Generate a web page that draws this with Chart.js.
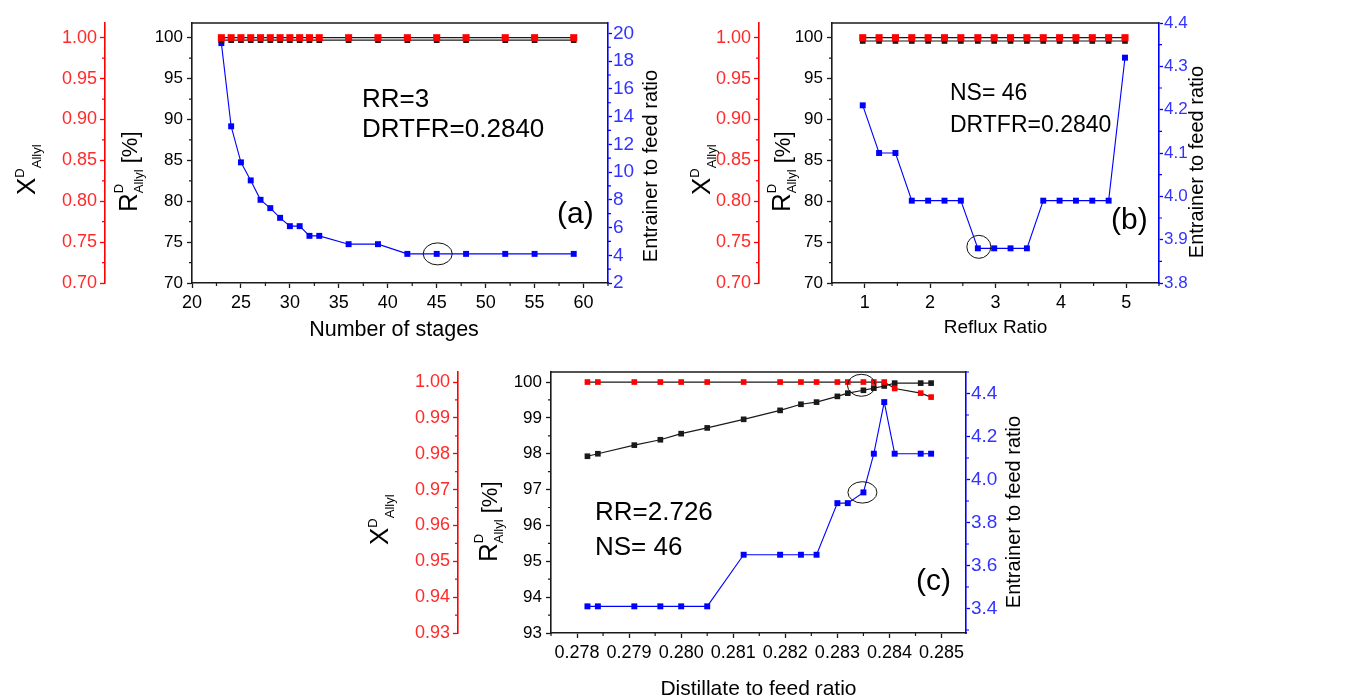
<!DOCTYPE html>
<html><head><meta charset="utf-8">
<script src="https://cdn.jsdelivr.net/npm/chart.js@4/dist/chart.umd.min.js"></script>
<style>
html,body{margin:0;padding:0;background:#fff;width:1345px;height:699px;overflow:hidden;}
canvas{position:absolute;display:block;}
</style></head><body>
<canvas id="ca" width="670" height="345" style="left:0;top:0"></canvas>
<canvas id="cb" width="675" height="345" style="left:670px;top:0"></canvas>
<canvas id="cc" width="720" height="349" style="left:340px;top:350px"></canvas>
<script>
// ---------------- Panel (a): number of stages (RR=3, DRTFR=0.2840) ----------------
const stagesA    = [23, 24, 25, 26, 27, 28, 29, 30, 31, 32, 33, 36, 39, 42, 45, 48, 52, 55, 59];
const purityA    = [1.000, 1.000, 1.000, 1.000, 1.000, 1.000, 1.000, 1.000, 1.000, 1.000, 1.000, 1.000, 1.000, 1.000, 1.000, 1.000, 1.000, 1.000, 1.000];
const recoveryA  = [99.7, 99.7, 99.7, 99.7, 99.7, 99.7, 99.7, 99.7, 99.7, 99.7, 99.7, 99.7, 99.7, 99.7, 99.7, 99.7, 99.7, 99.7, 99.7];
const entrainerA = [19.3, 13.3, 10.7, 9.4, 8.0, 7.4, 6.7, 6.1, 6.1, 5.4, 5.4, 4.8, 4.8, 4.1, 4.1, 4.1, 4.1, 4.1, 4.1];
const xTicksA  = [20, 25, 30, 35, 40, 45, 50, 55, 60];
const rTicksA  = [70, 75, 80, 85, 90, 95, 100];
const pTicksA  = [0.70, 0.75, 0.80, 0.85, 0.90, 0.95, 1.00];
const eTicksA  = [2, 4, 6, 8, 10, 12, 14, 16, 18, 20];

// ---------------- Panel (b): reflux ratio (NS=46, DRTFR=0.2840) ----------------
const refluxB    = [0.97, 1.22, 1.47, 1.72, 1.97, 2.22, 2.47, 2.73, 2.98, 3.23, 3.48, 3.73, 3.98, 4.23, 4.48, 4.73, 4.98];
const purityB    = [1.000, 1.000, 1.000, 1.000, 1.000, 1.000, 1.000, 1.000, 1.000, 1.000, 1.000, 1.000, 1.000, 1.000, 1.000, 1.000, 1.000];
const recoveryB  = [99.6, 99.6, 99.6, 99.6, 99.6, 99.6, 99.6, 99.6, 99.6, 99.6, 99.6, 99.6, 99.6, 99.6, 99.6, 99.6, 99.6];
const entrainerB = [4.21, 4.10, 4.10, 3.99, 3.99, 3.99, 3.99, 3.88, 3.88, 3.88, 3.88, 3.99, 3.99, 3.99, 3.99, 3.99, 4.32];
const xTicksB  = [1, 2, 3, 4, 5];
const rTicksB  = [70, 75, 80, 85, 90, 95, 100];
const pTicksB  = [0.70, 0.75, 0.80, 0.85, 0.90, 0.95, 1.00];
const eTicksB  = [3.8, 3.9, 4.0, 4.1, 4.2, 4.3, 4.4];

// ---------------- Panel (c): distillate to feed ratio (RR=2.726, NS=46) ----------------
const distillC   = [0.2782, 0.2784, 0.2791, 0.2796, 0.2800, 0.2805, 0.2812, 0.2819, 0.2823, 0.2826, 0.2830, 0.2832, 0.2835, 0.2837, 0.2839, 0.2841, 0.2846, 0.2848];
const purityC    = [1.000, 1.000, 1.000, 1.000, 1.000, 1.000, 1.000, 1.000, 1.000, 1.000, 1.000, 1.000, 1.000, 1.000, 1.000, 0.9982, 0.9969, 0.9958];
const recoveryC  = [97.93, 98.00, 98.24, 98.39, 98.56, 98.72, 98.96, 99.21, 99.38, 99.44, 99.60, 99.69, 99.77, 99.83, 99.89, 99.97, 99.97, 99.97];
const entrainerC = [3.41, 3.41, 3.41, 3.41, 3.41, 3.41, 3.65, 3.65, 3.65, 3.65, 3.89, 3.89, 3.94, 4.12, 4.36, 4.12, 4.12, 4.12];
const xTicksC  = [0.278, 0.279, 0.280, 0.281, 0.282, 0.283, 0.284, 0.285];
const rTicksC  = [93, 94, 95, 96, 97, 98, 99, 100];
const pTicksC  = [0.93, 0.94, 0.95, 0.96, 0.97, 0.98, 0.99, 1.00];
const eTicksC  = [3.4, 3.6, 3.8, 4.0, 4.2, 4.4];

// ---------------- texts ----------------
const TITLE_X_A = 'Number of stages';
const TITLE_X_B = 'Reflux Ratio';
const TITLE_X_C = 'Distillate to feed ratio';
const TITLE_E = 'Entrainer to feed ratio';

const FONT = "'Liberation Sans', Arial, Helvetica, sans-serif";
const RED = '#ff0000', RED_TXT = '#ff2a2a', BLUE = '#0000ff', BLUE_TXT = '#3333ff', BLK = '#1a1a1a';

function axis(o) {
  return {
    type: 'linear', position: o.position, min: o.min, max: o.max, weight: o.weight || 0,
    afterBuildTicks: s => { s.ticks = o.ticks.map(v => ({ value: v })); },
    afterFit: s => {
      if (s.isHorizontal()) { s.height = o.size; s.paddingLeft = 0; s.paddingRight = 0; }
      else { s.width = o.size; s.paddingTop = 0; s.paddingBottom = 0; }
    },
    border: { display: true, color: o.color, width: 1.6 },
    grid: { display: true, drawOnChartArea: false, drawTicks: true, tickLength: o.tl || 5, tickColor: o.color, tickWidth: 1.3, color: 'rgba(0,0,0,0)' },
    ticks: { autoSkip: false, includeBounds: false, color: o.textColor, padding: o.pad, maxRotation: 0, minRotation: 0,
             font: { family: FONT, size: o.fs }, callback: v => Number(v).toFixed(o.dec) },
    title: { display: false }
  };
}

function richRot(ctx, bx, sy, parts) {
  ctx.save();
  ctx.translate(bx, sy);
  ctx.rotate(-Math.PI / 2);
  ctx.textAlign = 'left'; ctx.textBaseline = 'alphabetic'; ctx.fillStyle = '#000';
  let cx = 0;
  for (const p of parts) {
    ctx.font = p.s + 'px ' + FONT;
    ctx.fillText(p.t, cx, p.dy || 0);
    if (!p.keep) cx += ctx.measureText(p.t).width;
  }
  ctx.restore();
}

const decoPlugin = {
  id: 'deco',
  afterDraw(chart, args, o) {
    const ctx = chart.ctx, ca = chart.chartArea, sc = chart.scales;
    ctx.save();
    // top frame line
    ctx.strokeStyle = BLK; ctx.lineWidth = 1.6;
    ctx.beginPath(); ctx.moveTo(ca.left, ca.top); ctx.lineTo(ca.right, ca.top); ctx.stroke();
    // minor ticks
    for (const id of ['x', 'yR', 'yX', 'yE']) {
      const s = sc[id]; const maj = s.ticks.map(t => t.value);
      const step = maj[1] - maj[0]; const mins = [];
      for (let i = 0; i < maj.length - 1; i++) mins.push((maj[i] + maj[i + 1]) / 2);
      if (maj[0] - step / 2 >= s.min - 1e-9) mins.push(maj[0] - step / 2);
      if (maj[maj.length - 1] + step / 2 <= s.max + 1e-9) mins.push(maj[maj.length - 1] + step / 2);
      ctx.strokeStyle = id === 'yX' ? RED : id === 'yE' ? BLUE : BLK; ctx.lineWidth = 1.2;
      ctx.beginPath();
      for (const v of mins) {
        const p = s.getPixelForValue(v);
        if (id === 'x') { ctx.moveTo(p, s.top); ctx.lineTo(p, s.top + 3); }
        else if (s.position === 'left') { ctx.moveTo(s.right - 3, p); ctx.lineTo(s.right, p); }
        else { ctx.moveTo(s.left, p); ctx.lineTo(s.left + 3, p); }
      }
      ctx.stroke();
    }
    // ellipses
    ctx.strokeStyle = '#111'; ctx.lineWidth = 1;
    for (const e of o.ellipses) {
      const px = sc.x.getPixelForValue(e.x) + (e.dx || 0), py = sc[e.scale].getPixelForValue(e.y) + (e.dy || 0);
      ctx.beginPath(); ctx.ellipse(px, py, e.rx, e.ry, 0, 0, Math.PI * 2); ctx.stroke();
    }
    // annotation texts
    ctx.fillStyle = '#000'; ctx.textAlign = 'left'; ctx.textBaseline = 'alphabetic';
    for (const t of o.texts) { ctx.font = t.s + 'px ' + FONT; ctx.fillText(t.t, t.x, t.y); }
    // x title
    ctx.textAlign = 'center'; ctx.textBaseline = 'middle'; ctx.font = o.xTitle.s + 'px ' + FONT;
    ctx.fillText(o.xTitle.t, (ca.left + ca.right) / 2 + (o.xTitle.dx || 0), o.xTitle.y);
    // right title
    ctx.save();
    ctx.translate(sc.yE.left + o.eTitle.off, o.eTitle.cy); ctx.rotate(-Math.PI / 2);
    ctx.textAlign = 'center'; ctx.textBaseline = 'alphabetic'; ctx.font = o.eTitle.s + 'px ' + FONT;
    ctx.fillText(TITLE_E, 0, 0);
    ctx.restore();
    // X^D_Allyl
    richRot(ctx, sc.yX.right - o.pTitle.off, o.pTitle.sy, [
      { t: 'X', s: 26 }, { t: 'D', s: 13, dy: -11 }, { t: 'Allyl', s: 13, dy: 6 }]);
    // R^D_Allyl [%]
    richRot(ctx, sc.yR.right - o.rTitle.off, o.rTitle.sy, [
      { t: 'R', s: 26 }, { t: 'D', s: 13, dy: -14, keep: true }, { t: 'Allyl', s: 13, dy: 6 }, { t: ' [%]', s: 22 }]);
    ctx.restore();
  }
};

function makePanel(id, P) {
  const ds = (label, data, axisId, pc, lc, r, lw) => ({
    label, data: P.x.map((v, i) => ({ x: v, y: data[i] })), yAxisID: axisId,
    borderColor: lc, borderWidth: lw, backgroundColor: pc,
    pointStyle: 'rect', pointRadius: r, pointBackgroundColor: pc, pointBorderWidth: 0,
    pointHoverRadius: r, tension: 0, fill: false
  });
  new Chart(document.getElementById(id), {
    type: 'line',
    data: { datasets: [
      ds('X Allyl', P.purity, 'yX', RED, BLK, P.rRed, 1.2),
      ds('R Allyl', P.recovery, 'yR', BLK, BLK, P.rBlk, 1.2),
      ds('Entrainer to feed ratio', P.entrainer, 'yE', BLUE, BLUE, P.rBlue, 1.1)
    ] },
    options: {
      responsive: false, animation: false, devicePixelRatio: 1,
      layout: { padding: { top: P.top, left: 0, right: 0, bottom: 0 } },
      plugins: { legend: { display: false }, tooltip: { enabled: false }, deco: P.deco },
      scales: {
        x: axis({ position: 'bottom', min: P.xMin, max: P.xMax, ticks: P.xTicks, size: P.xH, color: BLK, textColor: '#000', pad: 4, fs: 18, dec: P.xDec }),
        yR: axis({ position: 'left', weight: 1, min: P.rMin, max: P.rMax, ticks: P.rTicks, size: P.wR, color: BLK, textColor: '#000', pad: 4, fs: 17, dec: 0 }),
        yX: axis({ position: 'left', weight: 2, min: P.pMin, max: P.pMax, ticks: P.pTicks, size: P.wX, color: RED, textColor: RED_TXT, pad: 3, fs: 18, dec: 2 }),
        yE: axis({ position: 'right', min: P.eMin, max: P.eMax, ticks: P.eTicks, size: P.wE, color: BLUE, textColor: BLUE_TXT, pad: 1, tl: 4, fs: P.eFs, dec: P.eDec })
      }
    },
    plugins: [decoPlugin]
  });
}

makePanel('ca', {
  x: stagesA, purity: purityA, recovery: recoveryA, entrainer: entrainerA,
  xMin: 20, xMax: 62.5, xTicks: xTicksA, xDec: 0,
  rMin: 70, rMax: 101.8, rTicks: rTicksA,
  pMin: 0.70, pMax: 1.018, pTicks: pTicksA,
  eMin: 2, eMax: 20.75, eTicks: eTicksA, eDec: 0, eFs: 19,
  top: 23, xH: 62, wX: 105, wR: 87, wE: 62,
  rRed: 5, rBlk: 4, rBlue: 4.2,
  deco: {
    ellipses: [{ scale: 'yE', x: 45, y: 4.1, rx: 14.5, ry: 11, dx: 1 }],
    texts: [{ t: 'RR=3', s: 26, x: 362, y: 107 }, { t: 'DRTFR=0.2840', s: 26, x: 362, y: 137 }, { t: '(a)', s: 30, x: 557, y: 223 }],
    xTitle: { t: TITLE_X_A, s: 21.5, y: 330, dx: -6 },
    eTitle: { off: 49, cy: 166, s: 20 },
    pTitle: { off: 70, sy: 195 },
    rTitle: { off: 55, sy: 212 }
  }
});

makePanel('cb', {
  x: refluxB, purity: purityB, recovery: recoveryB, entrainer: entrainerB,
  xMin: 0.5, xMax: 5.5, xTicks: xTicksB, xDec: 0,
  rMin: 70, rMax: 101.8, rTicks: rTicksB,
  pMin: 0.70, pMax: 1.018, pTicks: pTicksB,
  eMin: 3.8, eMax: 4.4, eTicks: eTicksB, eDec: 1, eFs: 17,
  top: 23, xH: 62, wX: 89, wR: 73, wE: 186,
  rRed: 5, rBlk: 4, rBlue: 4.2,
  deco: {
    ellipses: [{ scale: 'yE', x: 2.73, y: 3.88, rx: 12, ry: 11.5, dx: 1, dy: -1.5 }],
    texts: [{ t: 'NS= 46', s: 23, x: 280, y: 100 }, { t: 'DRTFR=0.2840', s: 23, x: 280, y: 131.5 }, { t: '(b)', s: 30, x: 441, y: 228.5 }],
    xTitle: { t: TITLE_X_B, s: 19, y: 328, dx: 0 },
    eTitle: { off: 44, cy: 162, s: 20 },
    pTitle: { off: 49, sy: 195 },
    rTitle: { off: 42, sy: 212 }
  }
});

makePanel('cc', {
  x: distillC, purity: purityC, recovery: recoveryC, entrainer: entrainerC,
  xMin: 0.2775, xMax: 0.28547, xTicks: xTicksC, xDec: 3,
  rMin: 93, rMax: 100.28, rTicks: rTicksC,
  pMin: 0.93, pMax: 1.0028, pTicks: pTicksC,
  eMin: 3.286, eMax: 4.5, eTicks: eTicksC, eDec: 1, eFs: 19,
  top: 22, xH: 66, wX: 118, wR: 93, wE: 94,
  rRed: 4, rBlk: 4, rBlue: 4.2,
  deco: {
    ellipses: [{ scale: 'yE', x: 0.2835, y: 3.94, rx: 14.5, ry: 10.7, dx: -1 }, { scale: 'yR', x: 0.2835, y: 99.77, rx: 14, ry: 11, dx: -2, dy: -5 }],
    texts: [{ t: 'RR=2.726', s: 26, x: 255, y: 170 }, { t: 'NS= 46', s: 26, x: 255, y: 205 }, { t: '(c)', s: 30, x: 576, y: 240 }],
    xTitle: { t: TITLE_X_C, s: 21, y: 339, dx: 0 },
    eTitle: { off: 54, cy: 162, s: 20 },
    pTitle: { off: 70, sy: 195 },
    rTitle: { off: 54, sy: 212 }
  }
});
</script>
</body></html>
